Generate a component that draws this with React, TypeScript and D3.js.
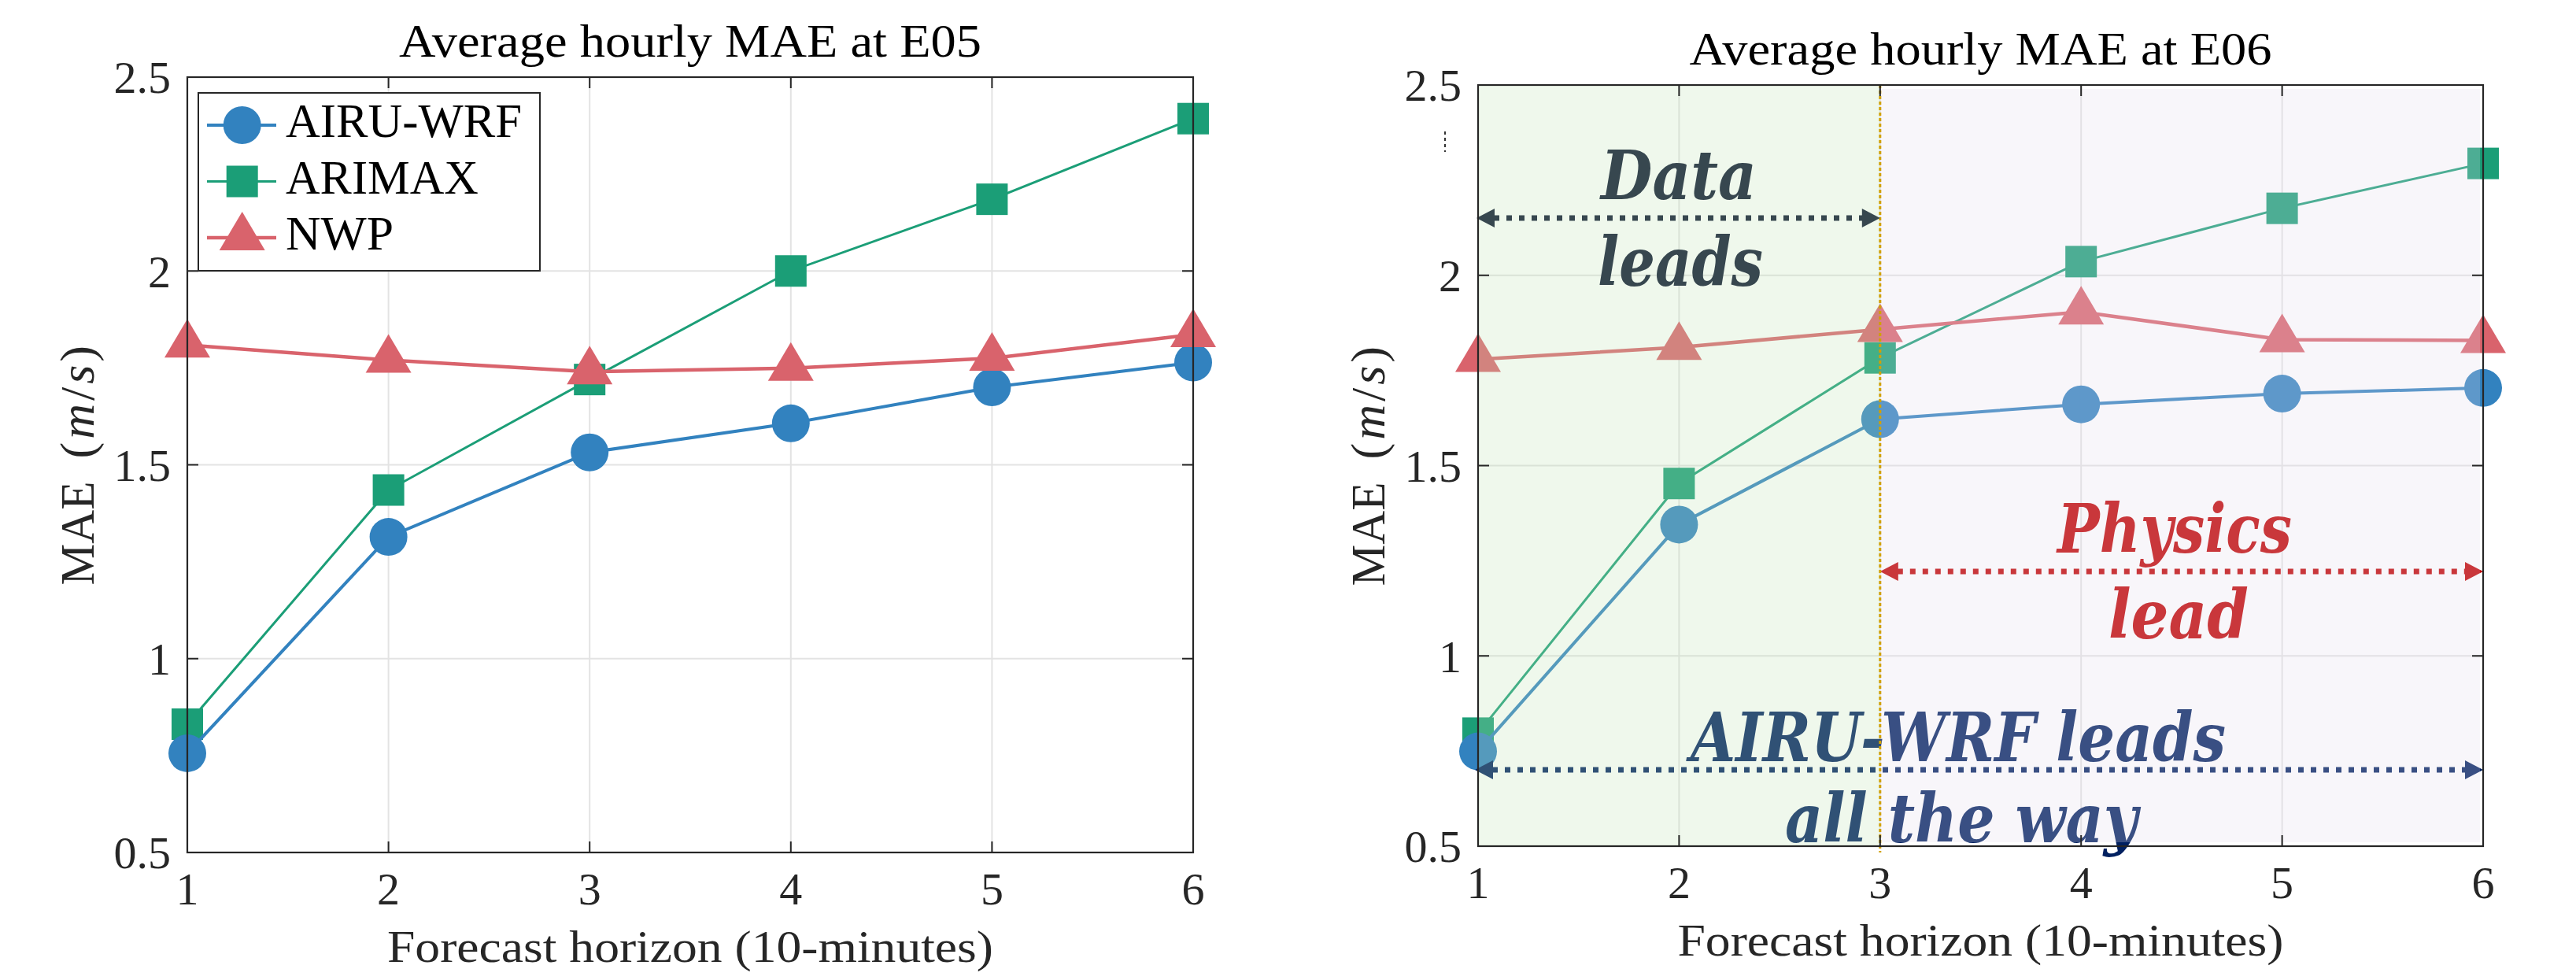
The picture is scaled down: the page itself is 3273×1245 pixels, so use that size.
import React, { useEffect } from "react";
import * as d3 from "d3";

const horizons = [1, 2, 3, 4, 5, 6];
const yTicks = [0.5, 1, 1.5, 2, 2.5];
const seriesNames = ["AIRU-WRF", "ARIMAX", "NWP"];
const legendWidths = [300, 245, 137];

const e05Airu = [0.756, 1.314, 1.532, 1.607, 1.7, 1.764];
const e05Arimax = [0.831, 1.435, 1.72, 2.0, 2.185, 2.393];
const e05Nwp = [1.809, 1.77, 1.74, 1.749, 1.775, 1.836];

const e06Airu = [0.749, 1.345, 1.622, 1.661, 1.689, 1.704];
const e06Arimax = [0.797, 1.453, 1.783, 2.036, 2.176, 2.294];
const e06Nwp = [1.779, 1.811, 1.858, 1.904, 1.831, 1.829];

const BLUE = "#3282bf";
const GREEN = "#1b9e77";
const RED = "#d9636c";
const FONT = "'Liberation Serif', 'Times New Roman', serif";
const SLAB = "'DejaVu Serif Condensed', 'DejaVu Serif', serif";

type Kind = "circle" | "square" | "triangle";

const Marker = ({ x, y, kind, color }: { x: number; y: number; kind: Kind; color: string }) => {
  if (kind === "circle") return <circle cx={x} cy={y} r={24} fill={color} />;
  if (kind === "square") return <rect x={x - 20} y={y - 20} width={40} height={40} fill={color} />;
  return <path d={`M${x},${y - 33}L${x + 29},${y + 16}L${x - 29},${y + 16}Z`} fill={color} />;
};

const Arrow = ({ x1, x2, y, color }: { x1: number; x2: number; y: number; color: string }) => (
  <g>
    <line x1={x1 + 22} x2={x2 - 22} y1={y} y2={y} stroke={color} strokeWidth={7} strokeDasharray="7 9" />
    <path d={`M${x1},${y}L${x1 + 23},${y - 12}L${x1 + 23},${y + 12}Z`} fill={color} />
    <path d={`M${x2},${y}L${x2 - 23},${y - 12}L${x2 - 23},${y + 12}Z`} fill={color} />
  </g>
);

const Slab = ({ x, y, w, color, children }: any) => (
  <text
    x={x}
    y={y}
    textAnchor="middle"
    fontFamily={SLAB}
    fontWeight="bold"
    fontStyle="italic"
    fontSize={86}
    fill={color}
    textLength={w}
    lengthAdjust="spacingAndGlyphs"
  >
    {children}
  </text>
);

const Panel = ({ box, title, airu, arimax, nwp, right }: any) => {
  const x = d3.scaleLinear().domain([1, 6]).range([box.left, box.right]);
  const y = d3.scaleLinear().domain([0.5, 2.5]).range([box.bottom, box.top]);
  const line = d3
    .line<number>()
    .x((_, i) => x(horizons[i]))
    .y((d) => y(d));

  const series = [
    { vals: arimax, color: GREEN, kind: "square" as Kind, w: 3 },
    { vals: airu, color: BLUE, kind: "circle" as Kind, w: 4 },
    { vals: nwp, color: RED, kind: "triangle" as Kind, w: 4.5 },
  ];
  const cx = (box.left + box.right) / 2;
  const cy = (box.top + box.bottom) / 2;
  const x3 = x(3);

  return (
    <g>
      <rect x={box.left} y={box.top} width={box.right - box.left} height={box.bottom - box.top} fill="#fff" />
      {/* grid */}
      {horizons.map((h) => (
        <line key={"gx" + h} x1={x(h)} x2={x(h)} y1={box.top} y2={box.bottom} stroke="#e3e3e3" strokeWidth={2} />
      ))}
      {yTicks.map((t) => (
        <line key={"gy" + t} x1={box.left} x2={box.right} y1={y(t)} y2={y(t)} stroke="#e3e3e3" strokeWidth={2} />
      ))}

      {series.map((s, si) => (
        <g key={si}>
          <path d={line(s.vals) || ""} fill="none" stroke={s.color} strokeWidth={s.w} />
          {s.vals.map((v: number, i: number) => (
            <Marker key={i} x={x(horizons[i])} y={y(v)} kind={s.kind} color={s.color} />
          ))}
        </g>
      ))}

      {right && (
        <g>
          {/* annotations under the shading */}
          <Slab x={2763} y={702} w={298} color="#c00000">Physics</Slab>
          <Slab x={2768} y={811} w={178} color="#c00000">lead</Slab>
          <Arrow x1={x3} x2={box.right} y={726} color="#c00000" />
          <Slab x={2488} y={967} w={680} color="#002060">AIRU-WRF leads</Slab>
          <Slab x={2492} y={1070} w={448} color="#002060">all the way</Slab>
          <Arrow x1={box.left - 4} x2={box.right} y={978} color="#002060" />

          {/* shaded regions */}
          <rect x={box.left} y={box.top} width={x3 - box.left} height={box.bottom - box.top} fill="rgb(190,228,180)" fillOpacity={0.25} />
          <rect x={x3} y={box.top + 5} width={box.right - 4 - x3} height={box.bottom - box.top - 10} fill="rgb(227,219,235)" fillOpacity={0.25} />
          <line x1={x3} x2={x3} y1={box.top} y2={box.bottom + 8} stroke="#d1a100" strokeWidth={3} strokeDasharray="4 3" />

          <Slab x={2133} y={253} w={198} color="#37474f">Data</Slab>
          <Slab x={2135} y={363} w={210} color="#37474f">leads</Slab>
          <Arrow x1={box.left - 2} x2={x3} y={277} color="#37474f" />
          <line x1={1836} x2={1836} y1={167} y2={193} stroke="#333" strokeWidth={2} strokeDasharray="4 4" />
        </g>
      )}

      {/* axes box and ticks */}
      <rect x={box.left} y={box.top} width={box.right - box.left} height={box.bottom - box.top} fill="none" stroke="#262626" strokeWidth={2.2} />
      {horizons.map((h) => (
        <g key={"tx" + h}>
          <line x1={x(h)} x2={x(h)} y1={box.bottom} y2={box.bottom - 14} stroke="#262626" strokeWidth={2} />
          <line x1={x(h)} x2={x(h)} y1={box.top} y2={box.top + 14} stroke="#262626" strokeWidth={2} />
          <text x={x(h)} y={box.bottom + 66} textAnchor="middle" fontFamily={FONT} fontSize={58} fill="#262626">
            {h}
          </text>
        </g>
      ))}
      {yTicks.map((t) => (
        <g key={"ty" + t}>
          <line x1={box.left} x2={box.left + 14} y1={y(t)} y2={y(t)} stroke="#262626" strokeWidth={2} />
          <line x1={box.right} x2={box.right - 14} y1={y(t)} y2={y(t)} stroke="#262626" strokeWidth={2} />
          <text x={box.left - 21} y={y(t)} dy="0.35em" textAnchor="end" fontFamily={FONT} fontSize={58} fill="#262626">
            {t}
          </text>
        </g>
      ))}

      <text x={cx} y={box.top - 26} textAnchor="middle" fontFamily={FONT} fontSize={60} fill="#000" textLength={740} lengthAdjust="spacingAndGlyphs">
        {title}
      </text>
      <text x={cx} y={box.bottom + 139} textAnchor="middle" fontFamily={FONT} fontSize={58} fill="#262626" textLength={770} lengthAdjust="spacingAndGlyphs">
        Forecast horizon (10-minutes)
      </text>
      <g transform={`translate(${box.left - 141},${cy}) rotate(-90)`}>
        <text x={-153} dy="0.35em" fontFamily={FONT} fontSize={62} fill="#262626" textLength={132} lengthAdjust="spacingAndGlyphs">
          MAE
        </text>
        <text x={8} dy="0.35em" fontFamily={FONT} fontSize={62} fill="#262626" letterSpacing={4}>
          (<tspan fontStyle="italic">m</tspan>/<tspan fontStyle="italic">s</tspan>)
        </text>
      </g>

      {!right && (
        <g>
          <rect x={252} y={118} width={434} height={226} fill="#fff" stroke="#262626" strokeWidth={2} />
          {seriesNames.map((name, i) => {
            const ly = 159 + i * 71.5;
            const s = [series[1], series[0], series[2]][i];
            return (
              <g key={name}>
                <line x1={263} x2={351} y1={ly} y2={ly} stroke={s.color} strokeWidth={s.w} />
                <Marker x={307.7} y={ly} kind={s.kind} color={s.color} />
                <text x={363} y={ly + 15} fontFamily={FONT} fontSize={61} fill="#000" textLength={legendWidths[i]} lengthAdjust="spacingAndGlyphs">
                  {name}
                </text>
              </g>
            );
          })}
        </g>
      )}
    </g>
  );
};

export default function App() {
  useEffect(() => {
    document.body.style.margin = "0";
  }, []);
  return (
    <svg width={3273} height={1245} style={{ display: "block", position: "absolute", left: 0, top: 0 }}>
      <rect width={3273} height={1245} fill="#fff" />
      <Panel
        box={{ left: 238, right: 1516, top: 98, bottom: 1083 }}
        title="Average hourly MAE at E05"
        airu={e05Airu}
        arimax={e05Arimax}
        nwp={e05Nwp}
        right={false}
      />
      <Panel
        box={{ left: 1878, right: 3155, top: 108, bottom: 1075 }}
        title="Average hourly MAE at E06"
        airu={e06Airu}
        arimax={e06Arimax}
        nwp={e06Nwp}
        right={true}
      />
    </svg>
  );
}
